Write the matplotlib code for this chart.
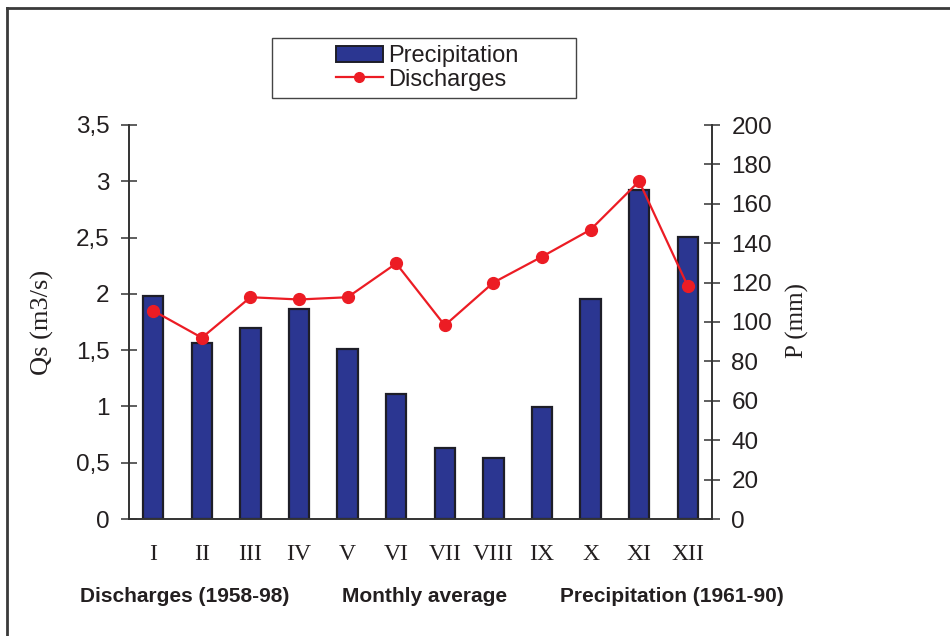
import matplotlib
matplotlib.use("Agg")
import matplotlib.pyplot as plt
from matplotlib.patches import Patch, Rectangle
from matplotlib.lines import Line2D
from matplotlib.ticker import FixedLocator, FixedFormatter
import numpy as np

months = ["I", "II", "III", "IV", "V", "VI", "VII", "VIII", "IX", "X", "XI", "XII"]
precipitation = [113, 89.5, 97, 106.5, 86.5, 63.5, 36, 31, 57, 111.5, 167, 143]
discharges = [1.85, 1.61, 1.97, 1.95, 1.97, 2.27, 1.72, 2.10, 2.33, 2.57, 3.00, 2.07]
qs_ticks = [0, 0.5, 1, 1.5, 2, 2.5, 3, 3.5]
qs_ticklabels = ["0", "0,5", "1", "1,5", "2", "2,5", "3", "3,5"]
p_ticks = [0, 20, 40, 60, 80, 100, 120, 140, 160, 180, 200]

TXT = "#231f20"
SPINE = "#333333"
BAR = "#2b3691"
RED = "#ec1c24"
SANS = "Liberation Sans"
SERIF = "Liberation Serif"

fig = plt.figure(figsize=(9.5, 6.36), dpi=100)
W, H = 950, 636
ax = fig.add_axes([129 / W, 1 - 519 / H, (712 - 129) / W, (519 - 125) / H])
ax2 = ax.twinx()

x = np.arange(len(months))
ax2.bar(x, precipitation, width=0.42, color=BAR, edgecolor="#1e1e28", linewidth=1.6, zorder=2)
ax.plot(x, discharges, color=RED, linewidth=1.6, marker="o", markersize=8.5, zorder=3)

ax.set_zorder(ax2.get_zorder() + 1)
ax.patch.set_visible(False)

ax.set_xlim(-0.5, len(months) - 0.5)
ax.set_ylim(0, 3.5)
ax2.set_ylim(0, 200)

for a in (ax, ax2):
    a.spines["top"].set_visible(False)
    for s in ("left", "right", "bottom"):
        a.spines[s].set_color(SPINE)
        a.spines[s].set_linewidth(1.2)

# x ticks: boundaries (major, inout), labels at centers (minor)
ax.xaxis.set_major_locator(FixedLocator(np.arange(-0.5, len(months), 1.0)))
ax.xaxis.set_major_formatter(FixedFormatter([""] * (len(months) + 1)))
ax.xaxis.set_minor_locator(FixedLocator(x))
ax.xaxis.set_minor_formatter(FixedFormatter(months))
ax.tick_params(axis="x", which="major", direction="inout", length=12, width=1.1, color=SPINE)
ax.tick_params(axis="x", which="minor", length=0, pad=18, labelsize=17, labelcolor=TXT)
for lab in ax.xaxis.get_minorticklabels():
    lab.set_fontfamily(SERIF)

ax.yaxis.set_major_locator(FixedLocator(qs_ticks))
ax.yaxis.set_major_formatter(FixedFormatter(qs_ticklabels))
ax.tick_params(axis="y", direction="inout", length=12, width=1.1, color=SPINE,
               pad=8, labelsize=17.5, labelcolor=TXT)
ax2.yaxis.set_major_locator(FixedLocator(p_ticks))
ax2.tick_params(axis="y", direction="inout", length=12, width=1.1, color=SPINE,
                pad=8, labelsize=17.5, labelcolor=TXT)
ax2.set_xticks([])
for lab in ax.get_yticklabels() + ax2.get_yticklabels():
    lab.set_fontfamily(SANS)

fig.text(42 / W, 1 - 322 / H, "Qs (m3/s)", rotation=90, ha="center", va="center",
         fontsize=19, family=SERIF, color=TXT)
fig.text(797 / W, 1 - 320 / H, "P (mm)", rotation=90, ha="center", va="center",
         fontsize=18, family=SERIF, color=TXT)

# bottom captions
for xc, s in [(185, "Discharges (1958-98)"), (425, "Monthly average"), (672, "Precipitation (1961-90)")]:
    fig.text(xc / W, 1 - 597 / H, s, ha="center", va="center", fontsize=15,
             family=SANS, weight="bold", color=TXT)

# legend
fig.patches.append(Rectangle((272 / W, 1 - 98 / H), (576 - 272) / W, 60 / H,
                             transform=fig.transFigure, facecolor="white",
                             edgecolor="#444444", linewidth=1.0))
handles = [Patch(facecolor=BAR, edgecolor="#1e1e28", linewidth=1.4),
           Line2D([0], [0], color=RED, linewidth=1.6, marker="o", markersize=7)]
fig.legend(handles, ["Precipitation", "Discharges"], loc="center",
           bbox_to_anchor=(427 / W, 1 - 68 / H), frameon=False,
           prop={"family": SANS, "size": 17}, labelcolor=TXT,
           handlelength=2.0, handleheight=0.7, handletextpad=0.2,
           labelspacing=0.05, borderpad=0.2)

# page border lines (top and left)
fig.add_artist(Line2D([7 / W, 1], [1 - 8 / H, 1 - 8 / H], transform=fig.transFigure,
                      color="#3a3a3a", linewidth=2.0))
fig.add_artist(Line2D([7 / W, 7 / W], [0, 1 - 8 / H], transform=fig.transFigure,
                      color="#3a3a3a", linewidth=2.0))

fig.savefig("out.png", dpi=100, facecolor="white")
